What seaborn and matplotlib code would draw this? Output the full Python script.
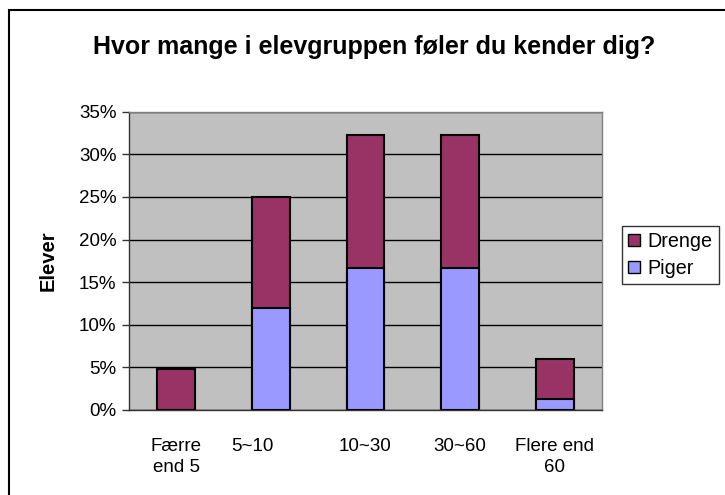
import matplotlib
matplotlib.use("Agg")
import matplotlib.pyplot as plt
import matplotlib.transforms as mtransforms
from matplotlib.patches import Patch, Rectangle
import seaborn as sns

categories = ["Færre\nend 5", "5~10", "10~30", "30~60", "Flere end\n60"]
piger = [0.0, 12.0, 16.7, 16.7, 1.25]
drenge = [4.8, 13.0, 15.6, 15.6, 4.75]
y_ticks = [0, 5, 10, 15, 20, 25, 30, 35]

totals = [p + d for p, d in zip(piger, drenge)]

col_drenge = "#993366"
col_piger = "#9999FF"

sns.set_style("white")
plt.rcParams["font.family"] = ["Liberation Sans", "DejaVu Sans"]
plt.rcParams["text.color"] = "black"
plt.rcParams["axes.labelcolor"] = "black"
plt.rcParams["xtick.color"] = "black"
plt.rcParams["ytick.color"] = "black"

fig = plt.figure(figsize=(7.25, 4.95), dpi=100)
ax = fig.add_axes([129 / 725, 1 - 410 / 495, (602 - 129) / 725, (410 - 111.7) / 495])
ax.set_facecolor("#C0C0C0")

# stacked: draw totals (Drenge on top) then Piger from zero
sns.barplot(x=categories, y=totals, color=col_drenge, saturation=1, width=0.4,
            edgecolor="black", linewidth=1.5, ax=ax, zorder=3)
sns.barplot(x=categories, y=piger, color=col_piger, saturation=1, width=0.4,
            edgecolor="black", linewidth=1.5, ax=ax, zorder=4)

ax.set_ylim(0, 35)
ax.set_xlim(-0.5, 4.5)
ax.set_yticks(y_ticks)
ax.set_yticklabels([f"{t}%" for t in y_ticks], fontsize=13.5)
ax.yaxis.grid(True, color="black", linewidth=1)
ax.set_axisbelow(True)

ax.set_xticks(range(len(categories)))
ax.set_xticklabels(categories, fontsize=13.5, linespacing=1.35)
ax.set_xticks([i - 0.5 for i in range(len(categories) + 1)], minor=True)
ax.tick_params(axis="x", which="major", length=0, pad=20)
ax.tick_params(axis="x", which="minor", length=5, color="#333333", width=1)
ax.tick_params(axis="y", length=5, color="#333333", width=1, pad=4, left=True)

# Excel pushes the second label to the left
lbl = ax.get_xticklabels()[1]
lbl.set_transform(lbl.get_transform() + mtransforms.ScaledTranslation(-0.19, 0, fig.dpi_scale_trans))

for side in ["left", "bottom"]:
    ax.spines[side].set_color("#333333")
    ax.spines[side].set_linewidth(1)
for side in ["top", "right"]:
    ax.spines[side].set_color("#808080")
    ax.spines[side].set_linewidth(1)

ax.set_xlabel("")
ax.set_ylabel("Elever", fontsize=14.5, fontweight="bold", labelpad=15)

fig.text(374 / 725, 1 - 47 / 495, "Hvor mange i elevgruppen føler du kender dig?",
         ha="center", va="center", fontsize=18, fontweight="bold")

handles = [Patch(facecolor=col_drenge, edgecolor="black", label="Drenge"),
           Patch(facecolor=col_piger, edgecolor="black", label="Piger")]
leg = fig.legend(handles=handles, loc="upper left", bbox_to_anchor=(622 / 725, 1 - 226 / 495),
                 frameon=True, fancybox=False, edgecolor="black", fontsize=14.2,
                 handlelength=0.6, handleheight=0.6, handletextpad=0.4,
                 borderpad=0.3, labelspacing=0.4, borderaxespad=0)
leg.get_frame().set_linewidth(1)

fig.add_artist(Rectangle((9 / 725, -0.1), 1.2, 1 - 10 / 495 + 0.1, transform=fig.transFigure,
                         fill=False, edgecolor="black", linewidth=1.5))

fig.savefig("out.png", dpi=100, facecolor="white")
